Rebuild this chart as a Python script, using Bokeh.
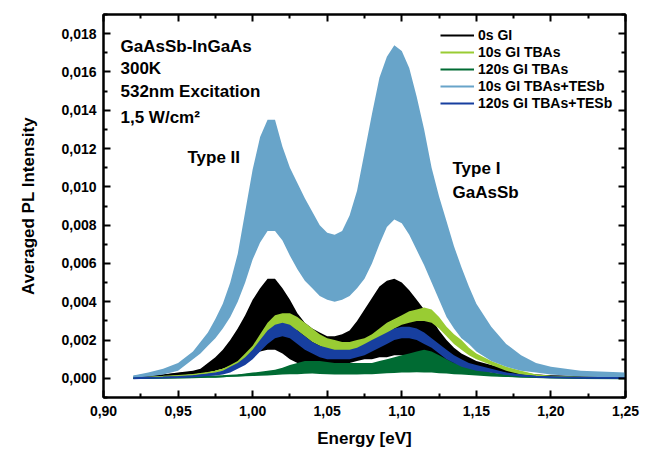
from bokeh.plotting import figure
from bokeh.models import (ColumnDataSource, LinearAxis, FixedTicker, CustomJSTickFormatter,
                          Legend, LegendItem, Range1d, Label)
from bokeh.embed import file_html
from bokeh.resources import INLINE

# ---------------- data ----------------
energy = [0.92, 0.93, 0.94, 0.95, 0.96, 0.965, 0.97, 0.975, 0.98, 0.985, 0.99, 0.995, 1.00, 1.005,
          1.01, 1.015, 1.02, 1.025, 1.03, 1.035, 1.04, 1.045, 1.05, 1.055, 1.06, 1.065, 1.07, 1.075,
          1.08, 1.085, 1.09, 1.095, 1.10, 1.105, 1.11, 1.115, 1.12, 1.125, 1.13, 1.135, 1.14, 1.145,
          1.15, 1.16, 1.17, 1.18, 1.19, 1.20, 1.22, 1.25]

# 0s GI (black band)
gi0_hi = [0.00005, 0.0001, 0.0002, 0.0003, 0.0004, 0.0005, 0.0008, 0.0011, 0.0015, 0.0020, 0.0026,
          0.0033, 0.0041, 0.0047, 0.0052, 0.0052, 0.0047, 0.0041, 0.0034, 0.0029, 0.0026, 0.0024,
          0.0022, 0.0022, 0.0023, 0.0025, 0.0030, 0.0036, 0.0042, 0.0048, 0.0051, 0.0052, 0.0050,
          0.0046, 0.0041, 0.0036, 0.0031, 0.0025, 0.0020, 0.0016, 0.0013, 0.0011, 0.0009, 0.0007,
          0.0005, 0.0003, 0.0002, 0.00015, 0.0001, 0.00005]
gi0_lo = [0.0, 0.00005, 0.0001, 0.00015, 0.0002, 0.00025, 0.0003, 0.0004, 0.0005, 0.0006, 0.0008,
          0.0010, 0.0012, 0.0014, 0.0015, 0.0015, 0.0013, 0.0010, 0.0008, 0.0007, 0.0007, 0.0007,
          0.0007, 0.0007, 0.0008, 0.0008, 0.0009, 0.0010, 0.0010, 0.0011, 0.0011, 0.0012, 0.0012,
          0.0012, 0.0011, 0.0010, 0.0009, 0.0008, 0.0007, 0.0006, 0.0005, 0.0004, 0.0004, 0.0003,
          0.0002, 0.00015, 0.0001, 0.00008, 0.00004, 0.0]

# 10s GI TBAs (light green band)
tba10_hi = [0.00003, 0.00006, 0.0001, 0.00015, 0.0002, 0.00025, 0.0003, 0.0004, 0.0005, 0.0007, 0.0009,
            0.0013, 0.0017, 0.0023, 0.0029, 0.0033, 0.0034, 0.0034, 0.0032, 0.0029, 0.0026, 0.0023,
            0.0021, 0.0020, 0.0019, 0.0019, 0.0020, 0.0021, 0.0023, 0.0026, 0.0029, 0.0031, 0.0033,
            0.0035, 0.0036, 0.0037, 0.0036, 0.0032, 0.0027, 0.0023, 0.0020, 0.0016, 0.0013, 0.0009,
            0.0006, 0.0004, 0.0002, 0.00012, 0.00006, 0.00003]
tba10_lo = [0.0, 0.00003, 0.00006, 0.0001, 0.00015, 0.0002, 0.00025, 0.0003, 0.0004, 0.0005, 0.0006,
            0.0009, 0.0012, 0.0016, 0.0021, 0.0025, 0.0027, 0.0027, 0.0025, 0.0022, 0.0019, 0.0017,
            0.0015, 0.0014, 0.0014, 0.0014, 0.0015, 0.0016, 0.0018, 0.0020, 0.0023, 0.0026, 0.0028,
            0.0029, 0.0030, 0.0030, 0.0029, 0.0026, 0.0022, 0.0018, 0.0015, 0.0012, 0.0010, 0.0007,
            0.0004, 0.0002, 0.0001, 0.00006, 0.00003, 0.0]

# 120s GI TBAs (dark green band)
tba120_hi = [0.00003, 0.00004, 0.00005, 0.00007, 0.0001, 0.00011, 0.00012, 0.00013, 0.00015, 0.00018,
             0.0002, 0.00025, 0.0003, 0.00035, 0.0004, 0.00045, 0.00055, 0.0007, 0.0008, 0.0009, 0.0009,
             0.0009, 0.00085, 0.0008, 0.0008, 0.0008, 0.0008, 0.0008, 0.0008, 0.0009, 0.0010, 0.0011,
             0.0012, 0.0013, 0.0014, 0.0015, 0.0014, 0.0012, 0.0010, 0.0008, 0.0007, 0.0006, 0.0005,
             0.0003, 0.0002, 0.00014, 0.0001, 0.00008, 0.00004, 0.00002]
tba120_lo = [0.0, 0.0, 0.0, 0.00001, 0.00002, 0.00003, 0.00004, 0.00005, 0.00006, 0.00008, 0.0001,
             0.00011, 0.00012, 0.00014, 0.00015, 0.00017, 0.0002, 0.00021, 0.00022, 0.00024, 0.00025,
             0.00023, 0.00022, 0.0002, 0.0002, 0.0002, 0.0002, 0.00021, 0.00022, 0.00024, 0.00026,
             0.00028, 0.0003, 0.00031, 0.00032, 0.00031, 0.0003, 0.00027, 0.00025, 0.00022, 0.0002,
             0.00017, 0.00015, 0.0001, 0.00007, 0.00005, 0.00003, 0.00002, 0.0, 0.0]

# 10s GI TBAs+TESb (light blue band)
tesb10_hi = [0.00015, 0.0003, 0.0005, 0.0008, 0.0014, 0.0019, 0.0024, 0.0031, 0.0039, 0.0050, 0.0065,
             0.0087, 0.0109, 0.0126, 0.0135, 0.0135, 0.0121, 0.0110, 0.0102, 0.0094, 0.0087, 0.0080,
             0.0076, 0.0075, 0.0077, 0.0085, 0.0098, 0.0118, 0.0138, 0.0157, 0.0168, 0.0174, 0.0171,
             0.0162, 0.0147, 0.0130, 0.0110, 0.0095, 0.0082, 0.0069, 0.0058, 0.0048, 0.0039, 0.0027,
             0.0018, 0.0012, 0.0008, 0.0006, 0.0004, 0.0003]
tesb10_lo = [0.00003, 0.0001, 0.0002, 0.0004, 0.0010, 0.0013, 0.0017, 0.0021, 0.0026, 0.0032, 0.0040,
             0.0050, 0.0062, 0.0071, 0.0077, 0.0077, 0.0072, 0.0064, 0.0057, 0.0051, 0.0047, 0.0043,
             0.0041, 0.0040, 0.0041, 0.0043, 0.0047, 0.0052, 0.0060, 0.0070, 0.0079, 0.0083, 0.0081,
             0.0075, 0.0067, 0.0059, 0.0050, 0.0041, 0.0032, 0.0026, 0.0021, 0.0018, 0.0014, 0.0009,
             0.0006, 0.0004, 0.0003, 0.0002, 0.0001, 0.00003]

# 120s GI TBAs+TESb (blue band)
tesb120_hi = [0.00002, 0.00004, 0.00006, 0.0001, 0.00015, 0.0002, 0.00025, 0.0003, 0.0004, 0.0006,
              0.0008, 0.0011, 0.0015, 0.0020, 0.0025, 0.0028, 0.0029, 0.0028, 0.0025, 0.0022, 0.0019,
              0.0017, 0.0016, 0.0015, 0.0015, 0.0015, 0.0016, 0.0018, 0.0020, 0.0022, 0.0024, 0.0026,
              0.0027, 0.0027, 0.0026, 0.0024, 0.0021, 0.0018, 0.0015, 0.0012, 0.0010, 0.0008, 0.0007,
              0.0005, 0.0003, 0.0002, 0.00012, 0.00008, 0.00005, 0.00003]
tesb120_lo = [0.0, 0.00001, 0.00002, 0.00004, 0.00006, 0.0001, 0.00012, 0.00015, 0.0002, 0.0003,
              0.0005, 0.0007, 0.0010, 0.0014, 0.0018, 0.0021, 0.0022, 0.0021, 0.0018, 0.0015, 0.0013,
              0.0011, 0.0010, 0.0010, 0.0010, 0.0010, 0.0011, 0.0012, 0.0014, 0.0016, 0.0018, 0.0020,
              0.0021, 0.0021, 0.0020, 0.0018, 0.0016, 0.0013, 0.0010, 0.0008, 0.0006, 0.0005, 0.0004,
              0.0003, 0.00018, 0.0001, 0.00006, 0.00004, 0.00002, 0.0]

series_names = ["0s GI", "10s GI TBAs", "120s GI TBAs", "10s GI TBAs+TESb", "120s GI TBAs+TESb"]
series_colors = ["#000000", "#99cc33", "#006b33", "#68a4c9", "#173f9f"]

x_ticks = [0.90, 0.95, 1.00, 1.05, 1.10, 1.15, 1.20, 1.25]
x_labels = ["0,90", "0,95", "1,00", "1,05", "1,10", "1,15", "1,20", "1,25"]
y_ticks = [0.000, 0.002, 0.004, 0.006, 0.008, 0.010, 0.012, 0.014, 0.016, 0.018]
y_labels = ["0,000", "0,002", "0,004", "0,006", "0,008", "0,010", "0,012", "0,014", "0,016", "0,018"]

# ---------------- figure ----------------
FONT = "Liberation Sans"

p = figure(width=654, height=453, x_range=Range1d(0.90, 1.25), y_range=Range1d(-0.001, 0.019),
           output_backend="svg", toolbar_location=None,
           min_border_left=103, min_border_right=29, min_border_top=14, min_border_bottom=56)
p.xgrid.visible = False
p.ygrid.visible = False
p.outline_line_color = "black"
p.outline_line_width = 2
p.background_fill_color = "white"
p.border_fill_color = "white"

bands = {
    "gi0": (gi0_lo, gi0_hi),
    "tba10": (tba10_lo, tba10_hi),
    "tba120": (tba120_lo, tba120_hi),
    "tesb10": (tesb10_lo, tesb10_hi),
    "tesb120": (tesb120_lo, tesb120_hi),
}
cols = dict(x=energy)
for key, (lo, hi) in bands.items():
    cols[key + "_lo"] = lo
    cols[key + "_hi"] = hi
    cols[key + "_mid"] = [(a + b) / 2 for a, b in zip(lo, hi)]
src = ColumnDataSource(cols)

legend_items = []
for key, name, col in zip(bands.keys(), series_names, series_colors):
    # centre line (hidden under the band) that gives the legend its line glyph
    r = p.line(x="x", y=key + "_mid", source=src, line_color=col, line_width=2)
    p.varea(x="x", y1=key + "_lo", y2=key + "_hi", source=src, fill_color=col)
    legend_items.append(LegendItem(label=name, renderers=[r]))

fmt_js = """
for (let i = 0; i < tvals.length; i++) {
  if (Math.abs(tick - tvals[i]) < 1e-9) { return tlabs[i]; }
}
return "";
"""
xfmt = CustomJSTickFormatter(args=dict(tvals=x_ticks, tlabs=x_labels), code=fmt_js)
yfmt = CustomJSTickFormatter(args=dict(tvals=y_ticks, tlabs=y_labels), code=fmt_js)

xminor = [0.925, 0.975, 1.025, 1.075, 1.125, 1.175, 1.225]
yminor = [-0.001, 0.001, 0.003, 0.005, 0.007, 0.009, 0.011, 0.013, 0.015, 0.017, 0.019]


def style_axis(ax, labels=True):
    ax.axis_line_width = 2
    ax.axis_line_color = "black"
    ax.major_tick_in = 7
    ax.major_tick_out = 0
    ax.major_tick_line_width = 2
    ax.minor_tick_in = 4
    ax.minor_tick_out = 0
    ax.minor_tick_line_width = 2
    ax.major_label_text_font = FONT
    ax.major_label_text_font_style = "bold"
    ax.major_label_text_font_size = "14px"
    ax.major_label_text_color = "black"
    ax.axis_label_text_font = FONT
    ax.axis_label_text_font_style = "bold"
    ax.axis_label_text_font_size = "17px"
    ax.axis_label_text_color = "black"
    if not labels:
        ax.major_label_text_font_size = "0px"
        ax.major_label_text_alpha = 0


xax = p.xaxis[0]
xax.ticker = FixedTicker(ticks=x_ticks, minor_ticks=xminor)
xax.formatter = xfmt
xax.axis_label = "Energy [eV]"
style_axis(xax)
xax.major_label_standoff = 8
xax.axis_label_standoff = 10

yax = p.yaxis[0]
yax.ticker = FixedTicker(ticks=y_ticks, minor_ticks=yminor)
yax.formatter = yfmt
yax.axis_label = "Averaged PL Intensity"
style_axis(yax)
yax.major_label_standoff = 7
yax.axis_label_standoff = 20

top_ax = LinearAxis(ticker=FixedTicker(ticks=x_ticks, minor_ticks=xminor), formatter=xfmt)
style_axis(top_ax, labels=False)
p.add_layout(top_ax, "above")
right_ax = LinearAxis(ticker=FixedTicker(ticks=y_ticks, minor_ticks=yminor), formatter=yfmt)
style_axis(right_ax, labels=False)
p.add_layout(right_ax, "right")

legend = Legend(items=legend_items, location=(332, 281))
legend.label_text_font = FONT
legend.label_text_font_style = "bold"
legend.label_text_font_size = "14px"
legend.label_text_color = "black"
legend.glyph_width = 34
legend.glyph_height = 16
legend.label_height = 16
legend.label_standoff = 4
legend.spacing = 1
legend.padding = 5
legend.margin = 0
legend.border_line_alpha = 0
legend.background_fill_alpha = 0
p.add_layout(legend)

annotations = [
    ("GaAsSb-InGaAs", 0.9114, 0.01733),
    ("300K", 0.9114, 0.01618),
    ("532nm Excitation", 0.9114, 0.01498),
    ("1,5 W/cm²", 0.9114, 0.01362),
    ("Type II", 0.9563, 0.01153),
    ("Type I", 1.134, 0.01096),
    ("GaAsSb", 1.134, 0.00970),
]
for txt, ax_, ay_ in annotations:
    p.add_layout(Label(x=ax_, y=ay_, text=txt, text_font=FONT, text_font_style="bold",
                       text_font_size="17px", text_baseline="alphabetic", text_color="black"))

open("out.html", "w").write(file_html(p, INLINE))
